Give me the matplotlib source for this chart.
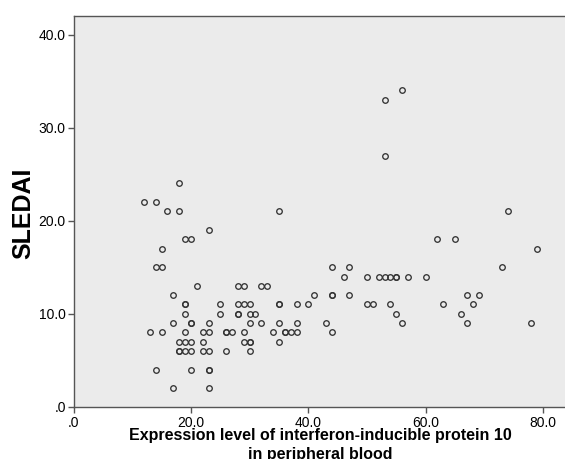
import matplotlib
matplotlib.use("Agg")
import matplotlib.pyplot as plt

# ---- data; repeated pairs = overlapping (bold) circles ----
ip10 = [
    18,
    12, 14,
    16, 18, 35, 74,
    23,
    19, 20, 62, 65,
    15, 79,
    14, 15, 44, 47, 73,
    46, 50, 52, 53, 54, 55, 55, 57, 60,
    21, 28, 29, 32, 33,
    17, 41, 44, 44, 47, 67, 69,
    19, 19, 25, 28, 29, 30, 35, 35, 38, 40, 50, 51, 54, 63, 68,
    19, 25, 28, 28, 30, 31, 55, 66,
    17, 20, 20, 23, 30, 32, 35, 38, 43, 56, 67, 78,
    13, 15, 19, 22, 23, 26, 26, 27, 29, 34, 36, 36, 37, 38, 44,
    18, 19, 20, 22, 29, 30, 30, 35,
    18, 18, 19, 20, 22, 23, 26, 30,
    14, 20, 23, 23,
    17, 23,
    53, 53, 56,
]
sledai = (
    [24] * 1 + [22] * 2 + [21] * 4 + [19] * 1 + [18] * 4 + [17] * 2 + [15] * 5
    + [14] * 9 + [13] * 5 + [12] * 7 + [11] * 15 + [10] * 8 + [9] * 12
    + [8] * 15 + [7] * 8 + [6] * 8 + [4] * 4 + [2] * 2 + [33, 27, 34]
)

x_ticks = [0, 20, 40, 60, 80]
x_labels = [".0", "20.0", "40.0", "60.0", "80.0"]
y_ticks = [0, 10, 20, 30, 40]
y_labels = [".0", "10.0", "20.0", "30.0", "40.0"]

plt.rcParams['font.family'] = ['Liberation Sans', 'DejaVu Sans']

fig = plt.figure(figsize=(5.65, 4.59), dpi=100)
ax = fig.add_axes([73.5 / 565, 1 - 406.7 / 459, 1 - 73.5 / 565, (406.7 - 15.7) / 459])
ax.set_facecolor('#EBEBEB')

ax.plot(ip10, sledai, linestyle='none', marker='o', markersize=4.0,
        markerfacecolor='none', markeredgecolor='#333333', markeredgewidth=0.95,
        clip_on=False)

ax.set_xlim(0, 491.5 / 5.87)
ax.set_ylim(0, 391.0 / 9.3)

ax.set_xticks(x_ticks)
ax.set_xticklabels(x_labels)
ax.set_yticks(y_ticks)
ax.set_yticklabels(y_labels)

for s in ['left', 'bottom', 'top']:
    ax.spines[s].set_color('#555555')
    ax.spines[s].set_linewidth(1.0)
ax.spines['right'].set_visible(False)

ax.tick_params(axis='both', direction='out', length=4, width=1.0, color='#555555',
               labelsize=10, labelcolor='#000000')
ax.tick_params(axis='y', pad=1.5)
ax.tick_params(axis='x', pad=2.5)

ax.set_ylabel('SLEDAI', fontsize=18, fontweight='bold', color='#000000')
ax.yaxis.set_label_coords(-0.102, 0.495)
ax.yaxis.label.set_va('center')

ax.set_xlabel('Expression level of interferon-inducible protein 10\nin peripheral blood',
              fontsize=11.5, fontweight='bold', color='#000000', linespacing=1.35)
ax.xaxis.set_label_coords(0.5015, -0.054)
ax.xaxis.label.set_va('top')

fig.savefig('out.png', dpi=100, facecolor='white')
